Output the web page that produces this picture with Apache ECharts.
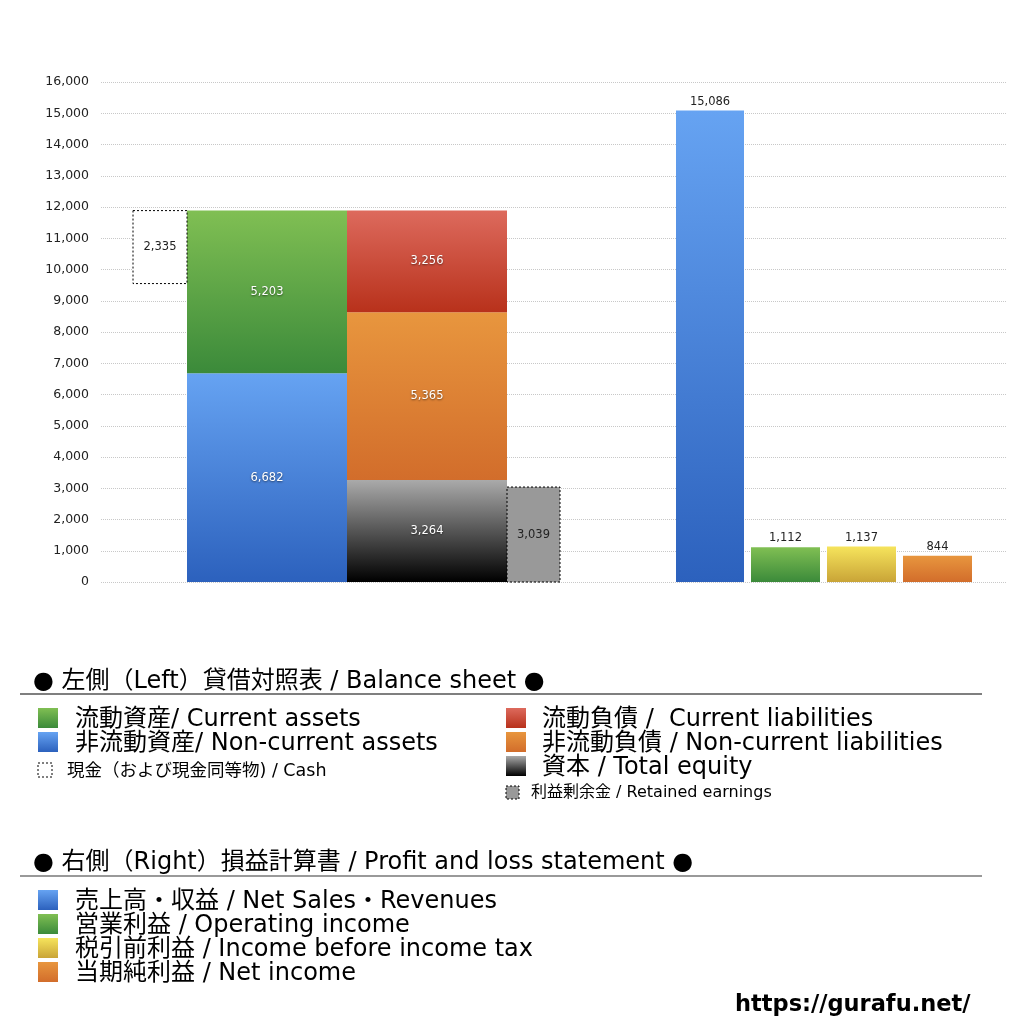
<!DOCTYPE html>
<html><head><meta charset="utf-8">
<script src="https://cdn.jsdelivr.net/npm/echarts@6/dist/echarts.min.js"></script>
<style>html,body{margin:0;padding:0;background:#fff}#c{width:1024px;height:1024px}</style>
</head><body><div id="c"></div><script>
// ---- data ----
const assetNames = ['非流動資産', '流動資産'];
const assetValues = [6682, 5203];
const liabNames = ['資本', '非流動負債', '流動負債'];
const liabValues = [3264, 5365, 3256];
const cashValue = 2335;
const retainedValue = 3039;
const plNames = ['売上高・収益', '営業利益', '税引前利益', '当期純利益'];
const plValues = [15086, 1112, 1137, 844];
const yMin = 0, yMax = 16000, yStep = 1000;

const header1 = '● 左側（Left）貸借対照表 / Balance sheet ●';
const header2 = '● 右側（Right）損益計算書 / Profit and loss statement ●';
const legendBSLeft = ['流動資産/ Current assets', '非流動資産/ Non-current assets'];
const legendBSRight = ['流動負債 /  Current liabilities', '非流動負債 / Non-current liabilities', '資本 / Total equity'];
const legendCash = '現金（および現金同等物) / Cash';
const legendRetained = '利益剰余金 / Retained earnings';
const legendPL = ['売上高・収益 / Net Sales・Revenues', '営業利益 / Operating income', '税引前利益 / Income before income tax', '当期純利益 / Net income'];
const siteUrl = 'https://gurafu.net/';

// ---- layout (x slots in hidden axis units) ----
const XSPAN = 905;
const SLOT = {
  cash: [32, 86], assets: [86, 246], liab: [246, 406], retained: [406, 459],
  pl: [[575, 643], [650, 719], [726, 795], [802, 871]]
};
const FONT = '"DejaVu Sans", "Noto Sans CJK JP", sans-serif';
const grad = (a, b) => new echarts.graphic.LinearGradient(0, 0, 0, 1, [{offset: 0, color: a}, {offset: 1, color: b}]);
const C = {
  blue: ['#66a3f2', '#2c61bd'], green: ['#80bf53', '#3b8a3a'], red: ['#dd6a5d', '#b8311b'],
  orange: ['#e8963e', '#d26d2b'], black: ['#aaaaaa', '#000000'], yellow: ['#f6e45c', '#c9a437']
};
const assetColors = [C.blue, C.green];
const liabColors = [C.black, C.orange, C.red];
const plColors = [C.blue, C.green, C.yellow, C.orange];
const fmt = v => Number(v).toLocaleString('en-US');

function stackRows(slot, values) {
  let base = 0;
  return values.map(v => { const r = [slot[0], slot[1], base, base + v, v]; base += v; return r; });
}
const assetTotal = assetValues.reduce((a, b) => a + b, 0);
const assetRows = stackRows(SLOT.assets, assetValues);
const liabRows = stackRows(SLOT.liab, liabValues);
const cashRows = [[SLOT.cash[0], SLOT.cash[1], assetTotal - cashValue, assetTotal, cashValue]];
const retainedRows = [[SLOT.retained[0], SLOT.retained[1], 0, retainedValue, retainedValue]];
const plRows = plValues.map((v, i) => [SLOT.pl[i][0], SLOT.pl[i][1], 0, v, v]);

const whiteLabel = {fill: '#fff', fontSize: 11.5, fontFamily: FONT, textShadowColor: 'rgba(0,0,0,0.55)', textShadowBlur: 2, textShadowOffsetY: 1};
const darkLabel = {fill: '#222', fontSize: 11.5, fontFamily: FONT};

function makeRender(styleFn, label, pos) {
  return function (params, api) {
    const p0 = api.coord([api.value(0), api.value(2)]);
    const p1 = api.coord([api.value(1), api.value(3)]);
    return {
      type: 'rect',
      shape: {x: p0[0], y: p1[1], width: p1[0] - p0[0], height: p0[1] - p1[1]},
      style: styleFn(params.dataIndex),
      textContent: {style: Object.assign({text: fmt(api.value(4))}, label)},
      textConfig: {position: pos, distance: 3}
    };
  };
}
function customSeries(name, rows, styleFn, label, pos) {
  return {
    type: 'custom', name: name, data: rows, encode: {x: [0, 1], y: [2, 3]},
    renderItem: makeRender(styleFn, label, pos)
  };
}

const series = [
  customSeries('assets', assetRows, i => ({fill: grad(assetColors[i][0], assetColors[i][1])}), whiteLabel, 'inside'),
  customSeries('liab', liabRows, i => ({fill: grad(liabColors[i][0], liabColors[i][1])}), whiteLabel, 'inside'),
  customSeries('cash', cashRows, () => ({fill: '#fff', stroke: '#000', lineWidth: 1, lineDash: [2, 2]}), darkLabel, 'inside'),
  customSeries('retained', retainedRows, () => ({fill: '#999999', stroke: '#000', lineWidth: 1, lineDash: [2, 2]}), darkLabel, 'inside'),
  customSeries('pl', plRows, i => ({fill: grad(plColors[i][0], plColors[i][1])}), darkLabel, 'top')
];

// ---- legend panel graphics ----
const g = [];
function text(x, y, s, size, opts) {
  g.push({type: 'text', x: x, y: y, style: Object.assign({text: s, font: size + 'px ' + FONT, fill: '#000', verticalAlign: 'middle', textVerticalAlign: 'middle'}, opts || {})});
}
function swatch(x, y, w, h, col) {
  g.push({type: 'rect', shape: {x: x, y: y, width: w, height: h}, style: {fill: grad(col[0], col[1])}});
}
function dashSwatch(x, y, w, h, fill) {
  g.push({type: 'rect', shape: {x: x, y: y, width: w, height: h}, style: {fill: fill, stroke: '#000', lineWidth: 1, lineDash: [2, 2]}});
}
function hline(x1, x2, y, color, w) {
  g.push({type: 'line', shape: {x1: x1, y1: y, x2: x2, y2: y}, style: {stroke: color, lineWidth: w}});
}
const FS = 24;
text(33, 682, header1, FS);
hline(20, 982, 694, '#000', 1.2);
const bsLeftCols = [C.green, C.blue];
legendBSLeft.forEach((s, i) => { swatch(38, 708 + i * 24, 20, 20, bsLeftCols[i]); text(75, 720 + i * 24, s, FS); });
dashSwatch(38, 763, 14, 14, '#fff'); text(67, 771, legendCash, 17.5);
const bsRightCols = [C.red, C.orange, C.black];
legendBSRight.forEach((s, i) => { swatch(506, 708 + i * 24, 20, 20, bsRightCols[i]); text(542, 720 + i * 24, s, FS); });
dashSwatch(506, 786, 13, 13, '#999999'); text(531, 793, legendRetained, 16);
text(33, 863, header2, FS);
hline(20, 982, 876, '#777', 1.5);
const plLegCols = [C.blue, C.green, C.yellow, C.orange];
legendPL.forEach((s, i) => { swatch(38, 890 + i * 24, 20, 20, plLegCols[i]); text(75, 902 + i * 24, s, FS); });
text(735, 1005, siteUrl, 22, {font: 'bold 22.5px ' + FONT});

const chart = echarts.init(document.getElementById('c'), null, {renderer: 'canvas'});
chart.setOption({
  backgroundColor: '#fff',
  animation: false,
  grid: {left: 101, right: 18, top: 82, bottom: 442},
  xAxis: {type: 'value', min: 0, max: XSPAN, show: false},
  yAxis: {
    type: 'value', min: yMin, max: yMax, interval: yStep,
    axisLine: {show: false}, axisTick: {show: false},
    axisLabel: {formatter: v => fmt(v), fontSize: 12.5, color: '#222', margin: 12, fontFamily: FONT},
    splitLine: {lineStyle: {type: 'dotted', color: '#c8c8c8', width: 1}}
  },
  series: series,
  graphic: g
});
</script></body></html>
